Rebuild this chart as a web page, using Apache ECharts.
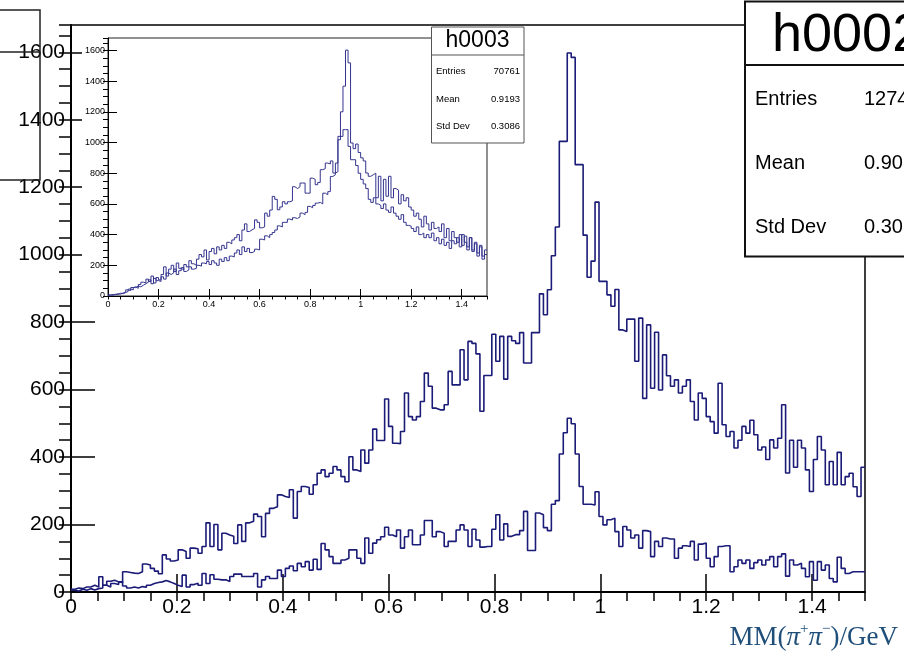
<!DOCTYPE html>
<html><head><meta charset="utf-8">
<script src="https://cdn.jsdelivr.net/npm/echarts@6/dist/echarts.min.js"></script>
<style>html,body{margin:0;padding:0;background:#fff}#c{width:904px;height:666px}</style>
</head><body><div id="c"></div>
<script>
// ---- data ----
const xMin = 0, xMax = 1.5;
const mainBinWidth = 0.0075;   // 200 bins
const insetBinWidth = 0.01;    // 150 bins
const xTickLabels = ['0','0.2','0.4','0.6','0.8','1','1.2','1.4'];

const mainUpper = [
8,12,10,15,15,20,15,45,20,32,
35,30,28,60,58,56,55,60,83,80,
70,62,54,110,98,92,95,125,120,100,
130,128,115,135,205,135,200,125,174,169,
165,144,199,150,205,210,231,224,164,233,
248,253,288,283,280,303,219,298,313,310,
290,318,352,362,342,352,372,362,342,327,
401,362,357,421,382,421,483,449,449,572,
491,441,440,476,590,520,510,520,565,649,
610,545,540,540,555,654,614,614,718,629,
743,737,706,536,642,642,764,684,758,631,
758,745,737,769,679,679,769,769,884,822,
896,997,1082,1336,1336,1598,1585,1267,1267,1058,
933,981,1156,921,921,881,847,897,777,772,
809,809,684,812,574,792,604,770,599,703,
641,610,629,590,610,629,565,510,590,574,
520,505,471,619,496,461,476,427,450,491,
471,509,466,421,430,393,451,427,456,555,
353,450,370,450,427,362,298,393,461,421,
318,387,318,414,318,342,352,312,283,370];

const mainLower = [
5,3,8,5,10,6,10,12,20,15,
25,22,30,18,12,15,12,16,14,20,
25,28,30,34,30,25,20,16,50,15,
22,26,20,55,25,51,38,36,36,31,
46,53,53,46,46,46,55,15,36,46,
40,40,65,46,70,77,63,85,75,90,
65,97,67,144,125,105,85,85,95,100,
125,125,100,85,160,115,145,155,164,192,
169,164,184,130,164,184,140,140,169,212,
212,164,179,174,135,150,150,184,199,184,
135,186,154,133,135,135,186,229,154,202,
165,170,170,182,239,123,123,234,229,191,
182,260,271,409,472,515,499,409,313,260,
260,258,297,224,199,214,219,179,135,194,
184,160,169,130,182,179,105,150,135,160,
157,157,100,130,137,135,150,95,142,145,
100,75,105,135,137,137,60,75,95,85,
95,70,87,95,80,95,105,75,105,113,
47,95,80,85,70,45,90,35,90,65,
80,40,30,103,70,55,60,60,60,60];

const insetUpper = [
5,10,8,15,12,20,25,40,35,55,
60,50,75,90,85,110,95,130,85,120,
105,140,190,130,175,200,160,215,180,170,
205,190,230,210,200,240,270,255,300,235,
290,310,275,320,300,330,310,350,340,365,
380,400,360,430,470,420,431,440,496,480,
444,450,540,520,560,649,630,562,580,614,
600,614,620,712,700,712,736,736,670,670,
768,760,725,740,823,830,866,860,880,801,
810,1018,1200,1367,1602,1519,997,960,990,935,
900,880,801,780,790,800,640,780,620,760,
650,780,640,700,690,600,660,620,640,580,
560,520,540,500,450,520,470,430,480,440,
450,420,470,380,440,360,420,380,350,400,
330,390,320,380,300,350,280,330,260,300];

const insetLower = [
8,5,12,10,18,15,22,30,45,40,
55,65,60,70,80,90,105,80,115,100,
95,125,110,150,140,150,175,140,165,185,
160,170,190,175,180,200,195,215,210,225,
205,230,215,200,240,225,250,230,260,255,
280,300,270,320,290,310,283,290,305,300,
370,365,392,380,400,414,430,457,450,480,
480,501,495,510,505,515,540,530,545,584,
575,590,605,610,600,670,660,680,779,790,
866,1040,1040,1084,1084,975,888,888,850,800,
760,730,700,630,610,640,600,590,570,600,
560,545,580,540,520,500,530,480,460,455,
440,420,450,400,410,380,400,380,410,360,
380,340,370,330,350,310,360,340,380,320,
400,350,300,380,290,340,260,320,240,270];

const yMax = 1681;
const statsInset = {title:'h0003', rows:[['Entries','70761'],['Mean','0.9193'],['Std Dev','0.3086']]};
const statsMain  = {title:'h0002', rows:[['Entries','1274'],['Mean','0.90'],['Std Dev','0.30']]};

// ---- build ----
function histPoints(vals, w){
  const pts = vals.map((v,i)=>[xMin + i*w, v]);
  pts.push([xMin + vals.length*w, vals[vals.length-1]]);
  return pts;
}
const FONT = '"Liberation Sans", Arial, Helvetica, sans-serif';
const LINE = '#1b1b78';
const fmtX = v => { const s = (+(+v).toFixed(2)).toString(); return xTickLabels.indexOf(s) >= 0 ? s : ''; };
const fmtY = v => String(Math.round(+v));

function axesFor(gi, o){
  return {
    x: [
      {gridIndex:gi, type:'value', min:xMin, max:xMax, interval:0.2, z:o.z,
       axisLine:{show:true, onZero:false, lineStyle:{color:'#000', width:o.lw}},
       axisTick:{show:true, inside:true, length:o.xMaj, lineStyle:{color:'#000', width:o.tw}},
       axisLabel:{show:true, fontSize:o.fs, color:'#000', fontFamily:FONT, margin:o.xm, showMaxLabel:false, formatter:fmtX},
       splitLine:{show:false}},
      {gridIndex:gi, type:'value', min:xMin, max:xMax, interval:0.05, z:o.z,
       axisLine:{show:false}, axisLabel:{show:false}, splitLine:{show:false},
       axisTick:{show:true, inside:true, length:o.xMin, lineStyle:{color:'#000', width:o.tw}}}
    ],
    y: [
      {gridIndex:gi, type:'value', min:0, max:yMax, interval:200, z:o.z,
       axisLine:{show:true, onZero:false, lineStyle:{color:'#000', width:o.lw}},
       axisTick:{show:true, inside:true, length:o.yMaj, lineStyle:{color:'#000', width:o.tw}},
       axisLabel:{show:true, fontSize:o.fs, color:'#000', fontFamily:FONT, margin:o.ym, showMaxLabel:false, formatter:fmtY},
       splitLine:{show:false}},
      {gridIndex:gi, type:'value', min:0, max:yMax, interval:50, z:o.z,
       axisLine:{show:false}, axisLabel:{show:false}, splitLine:{show:false},
       axisTick:{show:true, inside:true, length:o.yMin, lineStyle:{color:'#000', width:o.tw}}}
    ]
  };
}
const mainAx = axesFor(0, {z:1, lw:2, tw:1.5, xMaj:18, xMin:9, yMaj:24, yMin:12, fs:21, xm:5, ym:6});
const insAx  = axesFor(1, {z:7, lw:1, tw:1, xMaj:7, xMin:3.5, yMaj:9, yMin:5, fs:9, xm:4, ym:3});

function statsBox(s, o){
  const els = [];
  els.push({type:'rect', z:o.z, shape:{x:o.x, y:o.y, width:o.w, height:o.h},
            style:{fill:'#fff', stroke:o.stroke, lineWidth:o.lw}});
  els.push({type:'line', z:o.z+1, shape:{x1:o.x, y1:o.sep, x2:o.x+o.w, y2:o.sep},
            style:{stroke:o.stroke, lineWidth:o.lw}});
  els.push({type:'text', z:o.z+1, style:{text:s.title, x:o.tx, y:o.ty, fill:'#000',
            font:o.tfs+'px '+FONT, align:o.talign, verticalAlign:'middle'}});
  s.rows.forEach((r,i)=>{
    els.push({type:'text', z:o.z+1, style:{text:r[0], x:o.lx, y:o.rows[i], fill:'#000',
              font:o.fs+'px '+FONT, align:'left', verticalAlign:'middle'}});
    els.push({type:'text', z:o.z+1, style:{text:r[1], x:o.vx, y:o.rows[i], fill:'#000',
              font:o.fs+'px '+FONT, align:o.valign, verticalAlign:'middle'}});
  });
  return els;
}

const graphics = [
  // inset pad background
  {type:'rect', z:5, shape:{x:82, y:26.5, width:413, height:286}, style:{fill:'#fff'}},
  // partial box at top-left
  {type:'polyline', z:10, shape:{points:[[0,10],[40,10],[40,180],[0,180]]}, style:{stroke:'#222', lineWidth:1.5, fill:'none'}},
  {type:'line', z:10, shape:{x1:0,y1:52,x2:40,y2:52}, style:{stroke:'#222', lineWidth:1.5}},
  // axis title
  {type:'text', z:10, style:{
     text:'{r|MM(}{i|π}{s|+}{i|π}{s|−}{r|)/GeV}', x:898, y:638, align:'right', verticalAlign:'middle',
     rich:{
       r:{fontSize:27, fontFamily:'"Liberation Serif","DejaVu Serif",serif', fill:'#1f4e79', lineHeight:32},
       i:{fontSize:27, fontFamily:'"Liberation Serif","DejaVu Serif",serif', fontStyle:'italic', fill:'#1f4e79', lineHeight:32},
       s:{fontSize:15, fontFamily:'"Liberation Serif","DejaVu Serif",serif', fill:'#1f4e79', lineHeight:14, verticalAlign:'top'}
     }}}
].concat(
  statsBox(statsInset, {z:12, x:431.5, y:27, w:92.5, h:116, sep:55, stroke:'#555', lw:1,
    tx:477.5, ty:41, tfs:23, talign:'center', lx:436, vx:520, valign:'right', fs:9.5, rows:[71.5,99,126.5]}),
  statsBox(statsMain, {z:12, x:745, y:1.5, w:170, h:255, sep:65, stroke:'#111', lw:2,
    tx:772, ty:36, tfs:54, talign:'left', lx:755, vx:864, valign:'left', fs:20, rows:[99,163,227]})
);

const option = {
  animation:false,
  backgroundColor:'#fff',
  grid:[
    {left:71, right:39, top:25, bottom:74, show:true, borderColor:'#000', borderWidth:1.5, containLabel:false, outerBoundsMode:'none'},
    {left:108, right:417, top:38, bottom:370, show:true, borderColor:'#222', borderWidth:1, z:6, containLabel:false, outerBoundsMode:'none'}
  ],
  xAxis: mainAx.x.concat(insAx.x),
  yAxis: mainAx.y.concat(insAx.y),
  series:[
    {type:'line', xAxisIndex:0, yAxisIndex:0, step:'end', showSymbol:false, symbol:'none', z:2,
     data:histPoints(mainUpper, mainBinWidth), lineStyle:{color:LINE, width:1.6}},
    {type:'line', xAxisIndex:0, yAxisIndex:0, step:'end', showSymbol:false, symbol:'none', z:2,
     data:histPoints(mainLower, mainBinWidth), lineStyle:{color:LINE, width:1.6}},
    {type:'line', xAxisIndex:2, yAxisIndex:2, step:'end', showSymbol:false, symbol:'none', z:8,
     data:histPoints(insetUpper, insetBinWidth), lineStyle:{color:'#34348f', width:1}},
    {type:'line', xAxisIndex:2, yAxisIndex:2, step:'end', showSymbol:false, symbol:'none', z:8,
     data:histPoints(insetLower, insetBinWidth), lineStyle:{color:'#34348f', width:1}}
  ],
  graphic:{elements:graphics}
};
const chart = echarts.init(document.getElementById('c'), null, {renderer:'canvas'});
chart.setOption(option);
</script></body></html>
